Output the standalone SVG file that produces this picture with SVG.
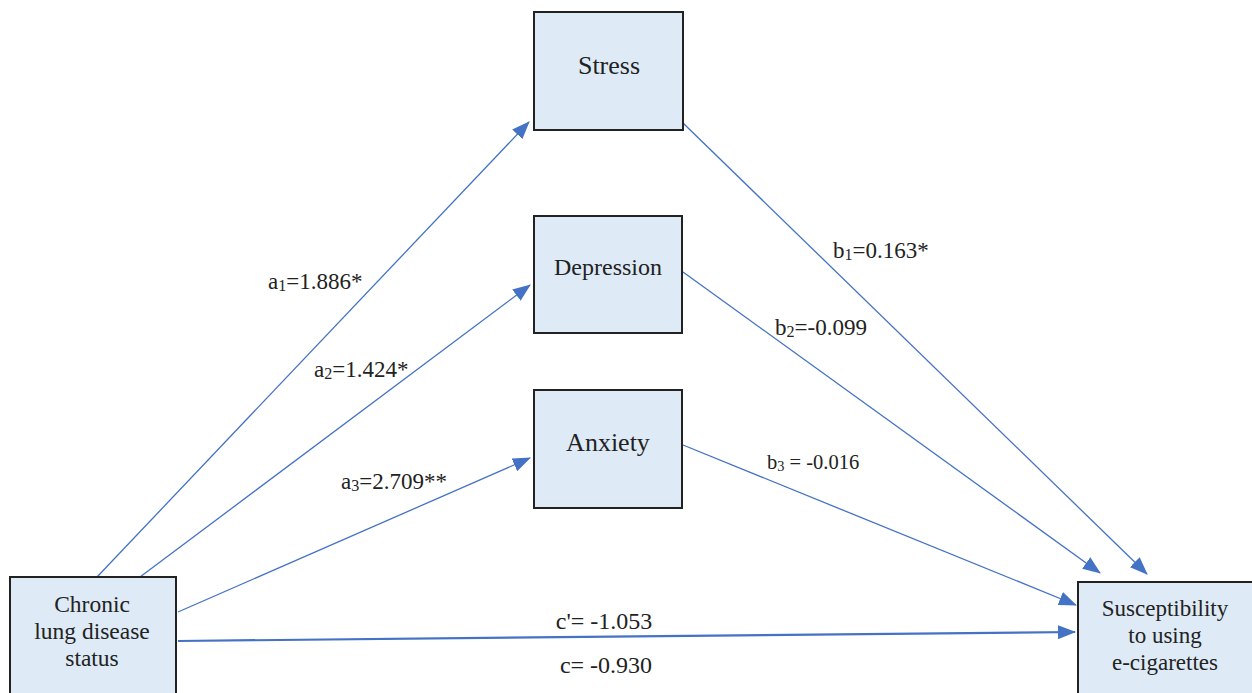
<svg xmlns="http://www.w3.org/2000/svg" width="1252" height="693" viewBox="0 0 1252 693">
<style>
.box{fill:#DEEBF7;stroke:#222;stroke-width:2}
.t{font-family:"Liberation Serif","Times New Roman",serif;fill:#222}
.c{stroke:#4472C4;stroke-width:1.3;fill:none}
.sub{font-size:70%}
</style>
<defs>
<marker id="ah" markerWidth="18" markerHeight="14" refX="17" refY="7" orient="auto" markerUnits="userSpaceOnUse">
<path d="M0,0 L18,7 L0,14 z" fill="#4472C4"/>
</marker>
</defs>
<rect width="1252" height="693" fill="#fff"/>
<g id="connectors">
<line class="c" x1="97" y1="577" x2="529" y2="122" marker-end="url(#ah)"/>
<line class="c" x1="140" y1="577" x2="530" y2="285" marker-end="url(#ah)"/>
<line class="c" x1="178" y1="612" x2="530" y2="458" marker-end="url(#ah)"/>
<line class="c" x1="178" y1="641" x2="1075" y2="632" style="stroke-width:2.2" marker-end="url(#ah)"/>
<line class="c" x1="683" y1="123" x2="1147" y2="574" marker-end="url(#ah)"/>
<line class="c" x1="683" y1="272" x2="1100" y2="573" marker-end="url(#ah)"/>
<line class="c" x1="683" y1="445" x2="1076" y2="605" marker-end="url(#ah)"/>
</g>
<g id="stress"><rect class="box" x="534" y="12" width="149" height="118"/><text class="t" x="609" y="74" font-size="26" text-anchor="middle">Stress</text></g>
<g id="depression"><rect class="box" x="534" y="216" width="148" height="117"/><text class="t" x="608" y="275" font-size="24" text-anchor="middle">Depression</text></g>
<g id="anxiety"><rect class="box" x="534" y="390" width="148" height="118"/><text class="t" x="608" y="451" font-size="26" text-anchor="middle">Anxiety</text></g>
<g id="chronic"><rect class="box" x="10" y="577" width="166" height="120"/>
<text class="t" font-size="23.5" text-anchor="middle"><tspan x="92" y="612">Chronic</tspan><tspan x="92" y="639">lung disease</tspan><tspan x="92" y="666">status</tspan></text></g>
<g id="susceptibility"><rect class="box" x="1078" y="582" width="180" height="120"/>
<text class="t" font-size="23" text-anchor="middle"><tspan x="1165" y="616">Susceptibility</tspan><tspan x="1165" y="643">to using</tspan><tspan x="1165" y="670">e-cigarettes</tspan></text></g>
<g id="labels">
<text class="t" x="268" y="289" font-size="23">a<tspan class="sub" dy="2">1</tspan><tspan dy="-2">=1.886*</tspan></text>
<text class="t" x="314" y="377" font-size="23">a<tspan class="sub" dy="2">2</tspan><tspan dy="-2">=1.424*</tspan></text>
<text class="t" x="341" y="489" font-size="23">a<tspan class="sub" dy="2">3</tspan><tspan dy="-2">=2.709**</tspan></text>
<text class="t" x="833" y="258" font-size="23">b<tspan class="sub" dy="2">1</tspan><tspan dy="-2">=0.163*</tspan></text>
<text class="t" x="775" y="335" font-size="23">b<tspan class="sub" dy="2">2</tspan><tspan dy="-2">=-0.099</tspan></text>
<text class="t" x="767" y="469" font-size="20.5">b<tspan class="sub" dy="2">3</tspan><tspan dy="-2"> = -0.016</tspan></text>
<text class="t" x="604" y="629" font-size="24" text-anchor="middle">c'= -1.053</text>
<text class="t" x="606" y="673" font-size="24" text-anchor="middle">c= -0.930</text>
</g>
</svg>
